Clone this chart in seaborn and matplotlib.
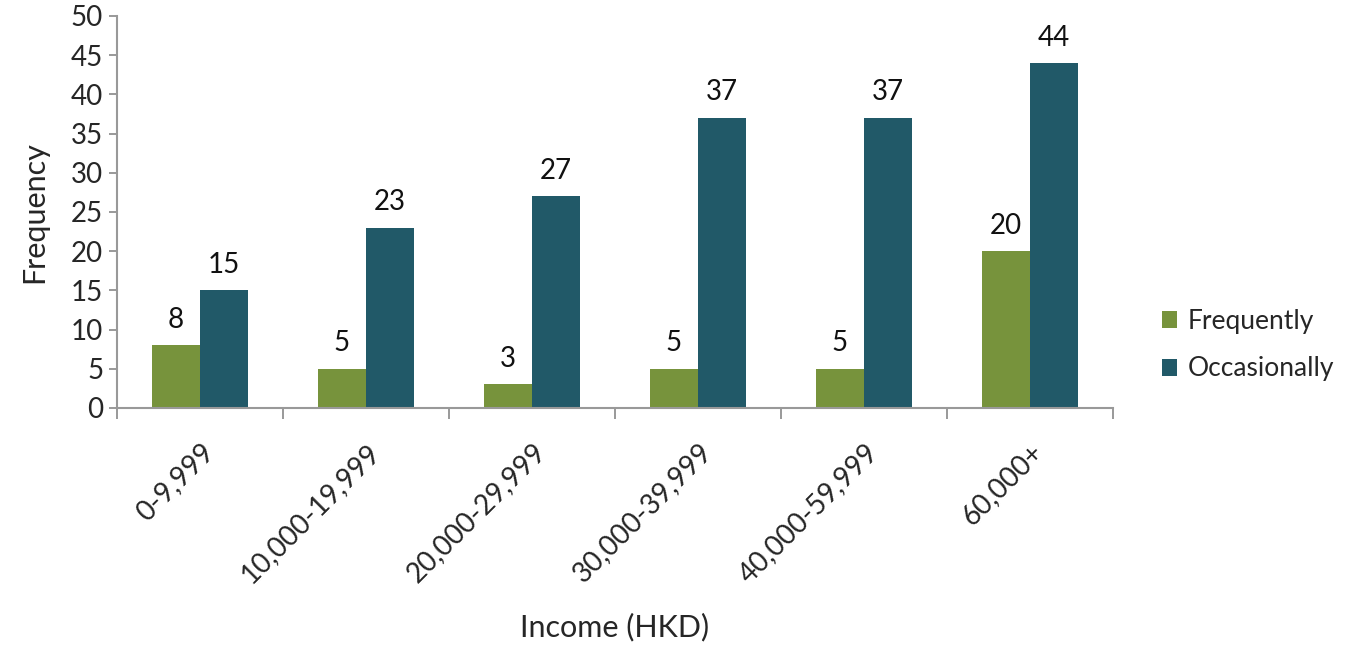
import matplotlib
matplotlib.use("Agg")
import matplotlib.pyplot as plt
import seaborn as sns
import pandas as pd

categories = ["0-9,999", "10,000-19,999", "20,000-29,999", "30,000-39,999", "40,000-59,999", "60,000+"]
frequently = [8, 5, 3, 5, 5, 20]
occasionally = [15, 23, 27, 37, 37, 44]
series_names = ["Frequently", "Occasionally"]
colors = ["#77933C", "#215968"]

df = pd.DataFrame({
    "Income": categories * 2,
    "Series": [series_names[0]] * len(categories) + [series_names[1]] * len(categories),
    "Frequency": frequently + occasionally,
})

sns.set_theme(style="white")
plt.rcParams["font.family"] = ["Lato", "DejaVu Sans"]

fig = plt.figure(figsize=(13.52, 6.48), dpi=100)
ax = fig.add_axes([117 / 1352, 1 - 408 / 648, (1113 - 117) / 1352, (408 - 16) / 648])

sns.barplot(data=df, x="Income", y="Frequency", hue="Series", palette=colors,
            width=0.58, saturation=1, linewidth=0, ax=ax, legend=True)

for cont in ax.containers:
    ax.bar_label(cont, padding=9, fontsize=20, color="#111111")

ax.set_ylim(0, 50)
ax.set_yticks(range(0, 51, 5))
ax.set_xlim(-0.5, len(categories) - 0.5)
ax.tick_params(axis="y", labelsize=20, length=6, width=1.2, color="#888888", direction="out", pad=4, left=True)
ax.set_xticks([i - 0.5 for i in range(len(categories) + 1)], minor=False)
ax.set_xticklabels([""] * (len(categories) + 1))
ax.set_xticks(range(len(categories)), minor=True)
ax.set_xticklabels(categories, minor=True, rotation=45, ha="right", rotation_mode="anchor", fontsize=20)
ax.tick_params(axis="x", which="major", length=8, width=1.2, color="#888888", direction="out", bottom=True)
ax.tick_params(axis="x", which="minor", length=0, pad=22)

for s in ["top", "right"]:
    ax.spines[s].set_visible(False)
for s in ["left", "bottom"]:
    ax.spines[s].set_color("#999999")
    ax.spines[s].set_linewidth(1.5)

ax.set_xlabel("Income (HKD)", fontsize=22, labelpad=18)
ax.set_ylabel("Frequency", fontsize=22, labelpad=16)

handles, labels = ax.get_legend_handles_labels()
ax.legend(handles, labels, loc="center left", bbox_to_anchor=(1.025, 0.16), frameon=False,
          fontsize=19, handlelength=0.6, handleheight=0.6, handletextpad=0.4, labelspacing=0.85)

fig.savefig("out.png", dpi=100)
